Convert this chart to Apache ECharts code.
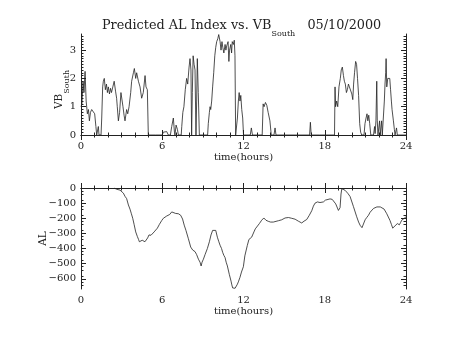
<!DOCTYPE html>
<html>
<head>
<meta charset="utf-8">
<script src="https://cdn.jsdelivr.net/npm/echarts@6/dist/echarts.min.js"></script>
<style>
  html, body { margin: 0; padding: 0; background: #fff; }
  #chart { width: 454px; height: 341px; }
</style>
</head>
<body>
<div id="chart"></div>
<script>
// Southward IMF component (VB_South), hours of day
const vbHours = [
  0.00, 0.07, 0.15, 0.22, 0.30, 0.38, 0.47, 0.55, 0.62, 0.70, 0.79, 0.91, 1.01, 1.10, 1.16, 1.22, 1.28, 1.33, 1.48,
  1.53, 1.60, 1.65, 1.72, 1.80, 1.88, 1.95, 2.02, 2.10, 2.18, 2.25, 2.35, 2.45, 2.55, 2.63, 2.68, 2.76, 2.85, 2.95,
  3.00, 3.10, 3.18, 3.25, 3.37, 3.45, 3.55, 3.67, 3.74, 3.87, 3.94, 4.04, 4.11, 4.24, 4.36, 4.48, 4.60, 4.73, 4.80,
  4.90, 4.97, 5.50, 6.00, 6.08, 6.20, 6.33, 6.45, 6.60, 6.70, 6.82, 6.90, 6.94, 7.02, 7.12, 7.19, 7.40, 7.44, 7.52,
  7.60, 7.70, 7.80, 7.88, 7.98, 8.05, 8.12, 8.17, 8.22, 8.28, 8.35, 8.42, 8.49, 8.54, 8.59, 8.66, 8.74, 9.35, 9.40,
  9.48, 9.53, 9.58, 9.65, 9.72, 9.80, 9.88, 9.95, 10.02, 10.10, 10.17, 10.22, 10.27, 10.34, 10.41, 10.47, 10.55,
  10.64, 10.70, 10.76, 10.86, 10.92, 10.97, 11.06, 11.12, 11.17, 11.25, 11.32, 11.37, 11.42, 11.50, 11.55, 11.62,
  11.68, 11.74, 11.80, 11.87, 11.94, 12.00, 12.50, 12.58, 12.66, 13.38, 13.45, 13.52, 13.62, 13.72, 13.82, 13.95,
  14.05, 14.25, 14.33, 14.40, 16.88, 16.94, 17.00, 17.60, 17.65, 17.70, 18.72, 18.76, 18.80, 18.88, 18.96, 19.05,
  19.15, 19.22, 19.30, 19.38, 19.45, 19.52, 19.60, 19.67, 19.75, 19.82, 19.90, 20.00, 20.07, 20.13, 20.20, 20.28,
  20.35, 20.42, 20.50, 20.58, 20.65, 20.73, 20.90, 20.97, 21.05, 21.12, 21.18, 21.25, 21.32, 21.40, 21.60, 21.68,
  21.72, 21.78, 21.84, 21.88, 21.93, 22.05, 22.10, 22.20, 22.25, 22.35, 22.40, 22.45, 22.50, 22.53, 22.58, 22.65,
  22.72, 22.80, 22.86, 22.92, 22.97, 23.07, 23.14, 23.19, 23.26, 23.30, 23.36, 24.00
];
const vbValues = [
  1.00, 1.10, 1.90, 1.50, 2.25, 1.20, 0.75, 0.90, 0.50, 0.80, 0.90, 0.85, 0.75, 0.30, 0.00, 0.00, 0.30, 0.00, 0.00,
  0.60, 1.70, 1.90, 2.00, 1.60, 1.80, 1.50, 1.70, 1.45, 1.65, 1.50, 1.70, 1.90, 1.55, 1.30, 1.00, 0.50, 0.80, 1.50,
  1.45, 1.00, 0.70, 0.50, 0.90, 0.75, 1.00, 1.50, 1.90, 2.20, 2.35, 2.00, 2.20, 1.90, 1.70, 1.30, 1.50, 2.10, 1.70,
  1.60, 0.00, 0.00, 0.00, 0.10, 0.05, 0.12, 0.00, 0.00, 0.30, 0.60, 0.10, 0.00, 0.35, 0.20, 0.00, 0.00, 0.30, 0.80,
  1.00, 1.60, 2.00, 1.80, 2.40, 2.70, 2.30, 0.00, 1.50, 2.80, 2.50, 2.30, 0.00, 1.20, 2.70, 1.50, 0.00, 0.00, 0.40,
  0.80, 1.00, 0.90, 1.20, 1.70, 2.20, 2.80, 3.10, 3.30, 3.40, 3.55, 3.57, 3.30, 3.00, 3.30, 3.10, 2.90,
  3.20, 3.00, 3.15, 3.30, 2.60, 3.00, 3.20, 2.90, 3.30, 3.20, 3.35, 2.80, 0.00, 0.00, 0.60, 1.20,
  1.50, 1.20, 1.40, 0.90, 0.60, 0.00, 0.00, 0.25, 0.00, 0.00, 1.10, 1.00, 1.15, 1.05, 0.80, 0.50,
  0.00, 0.00, 0.25, 0.00, 0.00, 0.45, 0.00, 0.00, 0.05, 0.00, 0.00, 1.70, 1.00, 1.20, 1.00, 1.70,
  2.00, 2.30, 2.40, 2.10, 1.90, 1.80, 1.50, 1.60, 1.80, 1.70, 1.75, 1.45, 1.25, 1.80, 2.20, 2.60,
  2.50, 2.00, 1.40, 0.40, 0.10, 0.00, 0.00, 0.40, 0.60, 0.75, 0.50, 0.70, 0.40, 0.00, 0.00, 0.30,
  0.05, 0.50, 1.90, 0.50, 0.00, 0.50, 0.00, 0.50, 0.00, 0.00, 1.20, 1.80, 2.20, 2.70, 1.70, 2.00,
  2.05, 2.00, 1.60, 1.20, 0.90, 0.50, 0.20, 0.00, 0.00, 0.25, 0.00, 0.00
];

// Predicted AL index (nT), hours of day
const alHours = [
  2.45, 2.51, 2.62, 2.76, 2.88, 3.00, 3.13, 3.25, 3.37, 3.50, 3.62, 3.72, 3.82, 3.92, 4.04, 4.16, 4.25, 4.31, 4.43,
  4.52, 4.60, 4.72, 4.80, 4.92, 5.02, 5.17, 5.29, 5.40, 5.50, 5.64, 5.79, 5.96, 6.08, 6.20, 6.33, 6.45, 6.55, 6.70,
  6.82, 6.99, 7.10, 7.19, 7.36, 7.50, 7.62, 7.75, 7.93, 8.10, 8.25, 8.35, 8.42, 8.54, 8.67, 8.79, 8.87, 8.94, 9.04,
  9.16, 9.33, 9.48, 9.60, 9.72, 9.80, 9.85, 9.95, 10.07, 10.18, 10.27, 10.38, 10.46, 10.55, 10.64, 10.72, 10.81,
  10.95, 11.08, 11.14, 11.20, 11.28, 11.38, 11.45, 11.55, 11.62, 11.74, 11.85, 11.99, 12.10, 12.20, 12.28, 12.40,
  12.50, 12.60, 12.77, 12.87, 12.97, 13.17, 13.34, 13.50, 13.60, 13.66, 13.83, 14.00, 14.08, 14.20, 14.33, 14.58,
  14.82, 15.07, 15.20, 15.32, 15.56, 15.81, 16.05, 16.30, 16.47, 16.67, 16.86, 17.04, 17.16, 17.28, 17.46, 17.65,
  17.90, 18.05, 18.14, 18.39, 18.55, 18.64, 18.81, 19.01, 19.08, 19.13, 19.20, 19.26, 19.38, 19.50, 19.58, 19.70,
  19.87, 20.12, 20.36, 20.50, 20.61, 20.75, 20.85, 20.98, 21.10, 21.23, 21.35, 21.47, 21.60, 21.72, 21.85, 21.97,
  22.10, 22.21, 22.38, 22.58, 22.82, 22.92, 23.02, 23.10, 23.19, 23.36, 23.51, 23.60, 23.68, 23.86, 24.00
];
const alValues = [
  0, 0, -8, -12, -14, -18, -34, -55, -70, -112, -140, -170, -200, -240, -290, -320, -340, -355, -360,
  -345, -350, -355, -360, -330, -310, -312, -305, -290, -280, -265, -240, -215, -200, -192, -185, -182, -175, -158,
  -165, -168, -165, -170, -180, -205, -245, -280, -335, -390, -410, -420, -420, -440, -470, -490, -515, -490, -470,
  -440, -400, -355, -310, -280, -270, -268, -280, -325, -355, -378, -400, -425, -445, -460, -490, -515,
  -570, -615, -640, -660, -667, -662, -655, -635, -620, -590, -555, -520, -448, -410, -380, -340,
  -330, -325, -290, -270, -257, -235, -213, -198, -207, -213, -220, -225, -228, -225, -222, -216,
  -210, -198, -200, -195, -200, -206, -219, -231, -219, -208, -180, -150, -120, -100, -92, -96,
  -92, -80, -76, -72, -75, -80, -105, -148, -155, -130, -40, -5, -8, -15, -20, -35,
  -56, -123, -190, -225, -246, -262, -250, -210, -195, -180, -160, -148, -135, -130, -125, -120,
  -125, -122, -139, -170, -215, -240, -265, -258, -250, -235, -243, -228, -213, -201, -190
];

// Axis ranges and tick positions
const hourTicks = [0, 6, 12, 18, 24];
const vbRange = [0, 3.57];
const vbTicks = [0, 1, 2, 3];
const alRange = [-667, 0];
const alTicks = [0, -100, -200, -300, -400, -500, -600];

const INK = '#222222';
const FONT = 'DejaVu Serif';

function stepValues(lo, hi, step, skipEvery) {
  const out = [];
  const n = Math.floor((hi - lo) / step + 1e-9);
  for (let i = 0; i <= n; i++) {
    if (skipEvery && i % skipEvery === 0) continue;
    out.push(Math.round((lo + i * step) * 1000) / 1000);
  }
  return out;
}
const vbMinor = stepValues(0, vbRange[1], 0.1, 10);
const alMinor = stepValues(-660, 0, 20, 5);

function timeAxes(gridIndex) {
  const base = {
    type: 'value', gridIndex, min: hourTicks[0], max: hourTicks[hourTicks.length - 1], interval: 6,
    splitLine: { show: false },
    axisLine: { show: true, lineStyle: { color: INK, width: 1 } },
    axisTick: { show: true, inside: true, length: 5, lineStyle: { color: INK, width: 1 } },
    minorTick: { show: true, splitNumber: 6, length: 2.5, lineStyle: { color: INK, width: 1 } }
  };
  return [
    Object.assign({}, base, {
      position: 'bottom',
      name: 'time(hours)', nameLocation: 'middle', nameGap: 17, nameMoveOverlap: false,
      nameTextStyle: { fontFamily: FONT, fontSize: 10, color: INK },
      axisLabel: { show: true, margin: 6, fontFamily: FONT, fontSize: 10, color: INK }
    }),
    Object.assign({}, base, { position: 'top', axisLabel: { show: false } })
  ];
}

function valueAxes(gridIndex, range, majors, minors, name, nameGap, labelFmt) {
  const common = {
    type: 'value', gridIndex, min: range[0], max: range[1], offset: 0,
    splitLine: { show: false }
  };
  const list = [];
  ['left', 'right'].forEach(function (side) {
    list.push(Object.assign({}, common, {
      position: side,
      name: side === 'left' ? name : '',
      nameLocation: 'middle', nameGap: nameGap, nameRotate: 90, nameMoveOverlap: false,
      nameTextStyle: {
        fontFamily: FONT, fontSize: 10, color: INK,
        rich: {
          m: { fontFamily: FONT, fontSize: 10.5, color: INK, lineHeight: 12, verticalAlign: 'top' },
          s: { fontFamily: FONT, fontSize: 8, color: INK, lineHeight: 8, padding: [9, 10, 0, 0], verticalAlign: 'top' }
        }
      },
      axisLine: { show: true, lineStyle: { color: INK, width: 1 } },
      axisTick: { show: true, inside: true, length: 5, customValues: majors, lineStyle: { color: INK, width: 1 } },
      axisLabel: {
        show: side === 'left', margin: 5, customValues: majors,
        fontFamily: FONT, fontSize: 10, color: INK, formatter: labelFmt
      }
    }));
    list.push(Object.assign({}, common, {
      position: side,
      axisLine: { show: false },
      axisLabel: { show: false },
      axisTick: { show: true, inside: true, length: 2.5, customValues: minors, lineStyle: { color: INK, width: 1 } }
    }));
  });
  return list;
}

const fmtMinus = function (v) { return v < 0 ? '\u2212' + Math.abs(v) : String(v); };

const chart = echarts.init(document.getElementById('chart'), null, { renderer: 'canvas' });
chart.setOption({
  animation: false,
  backgroundColor: '#ffffff',
  title: {
    text: '{m|Predicted AL Index vs. VB}{s|South}{m|   05/10/2000}',
    left: 102, top: 19, padding: 0,
    textStyle: {
      fontWeight: 'normal',
      rich: {
        m: { fontFamily: FONT, fontSize: 12.8, fontWeight: 'normal', color: INK, lineHeight: 14, verticalAlign: 'top' },
        s: { fontFamily: FONT, fontSize: 8, fontWeight: 'normal', color: INK, lineHeight: 8, padding: [11, 0, 0, 0], verticalAlign: 'top' }
      }
    }
  },
  grid: [
    { left: 81, top: 34, width: 325, height: 101 },
    { left: 81, top: 188, width: 325, height: 101 }
  ],
  xAxis: timeAxes(0).concat(timeAxes(1)),
  yAxis: valueAxes(0, vbRange, vbTicks, vbMinor, '{m|VB}{s|South}', 15, fmtMinus)
    .concat(valueAxes(1, alRange, alTicks, alMinor, '{m|AL}', 31, fmtMinus)),
  series: [
    {
      type: 'line', xAxisIndex: 0, yAxisIndex: 0, showSymbol: false, symbol: 'none',
      lineStyle: { color: INK, width: 0.8 },
      data: vbHours.map(function (h, i) { return [h, vbValues[i]]; })
    },
    {
      type: 'line', xAxisIndex: 2, yAxisIndex: 4, showSymbol: false, symbol: 'none',
      lineStyle: { color: INK, width: 0.8 },
      data: alHours.map(function (h, i) { return [h, alValues[i]]; })
    }
  ]
});
</script>
</body>
</html>
